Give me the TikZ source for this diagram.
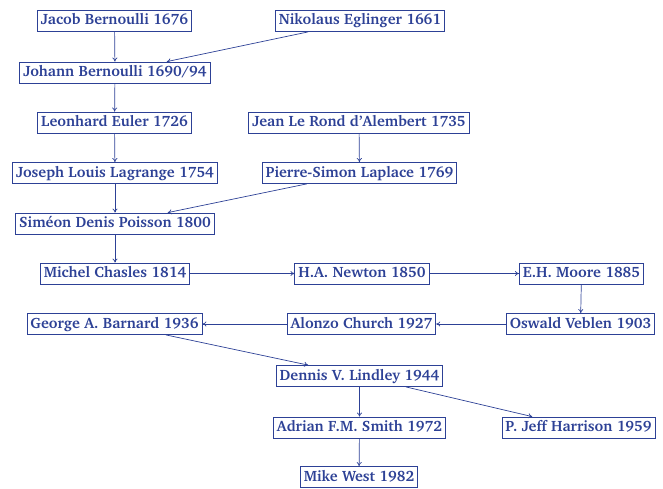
\documentclass[tikz,border=0pt]{standalone}
\usepackage[T1]{fontenc}
\renewcommand{\rmdefault}{bch}
\usetikzlibrary{arrows.meta}
\definecolor{genblue}{RGB}{45,65,150}
\tikzset{
  person/.style={draw=genblue,text=genblue,font=\fontsize{15}{17}\selectfont\bfseries,
    line width=0.8pt,inner xsep=3.5pt,inner ysep=3.5pt,text height=11pt,text depth=3pt},
  link/.style={draw=genblue,line width=0.7pt,-{To[length=4pt,width=5pt]}}
}
\begin{document}
\begin{tikzpicture}[x=1pt,y=-1pt]
        \useasboundingbox (0,0) rectangle (663,489);
        \node[person] (jacob) at (114.5,20.5) {Jacob Bernoulli 1676};
        \node[person] (eglinger) at (360,21) {Nikolaus Eglinger 1661};
        \node[person] (johann) at (115,72.5) {Johann Bernoulli 1690/94};
        \node[person] (euler) at (114.5,122.5) {Leonhard Euler 1726};
        \node[person] (dalembert) at (359,122.5) {Jean Le Rond d'Alembert 1735};
        \node[person] (lagrange) at (115,173) {Joseph Louis Lagrange 1754};
        \node[person] (laplace) at (359.5,173) {Pierre-Simon Laplace 1769};
        \node[person] (poisson) at (115,223.5) {Sim\'eon Denis Poisson 1800};
        \node[person] (chasles) at (115,273.5) {Michel Chasles 1814};
        \node[person] (newton) at (362,273.5) {H.A. Newton 1850};
        \node[person] (moore) at (581.5,273.5) {E.H. Moore 1885};
        \node[person] (barnard) at (114.5,324) {George A. Barnard 1936};
        \node[person] (church) at (361.5,324) {Alonzo Church 1927};
        \node[person] (veblen) at (580.5,324) {Oswald Veblen 1903};
        \node[person] (lindley) at (359.5,376) {Dennis V. Lindley 1944};
        \node[person] (smith) at (359.5,427.5) {Adrian F.M. Smith 1972};
        \node[person] (harrison) at (578.5,427.5) {P. Jeff Harrison 1959};
        \node[person] (west) at (359,477) {Mike West 1982};

        \draw[link] (jacob) -- (johann);
        \draw[link] (eglinger) -- (johann);
        \draw[link] (johann) -- (euler);
        \draw[link] (euler) -- (lagrange);
        \draw[link] (dalembert) -- (laplace);
        \draw[link] (lagrange) -- (poisson);
        \draw[link] (laplace) -- (poisson);
        \draw[link] (poisson) -- (chasles);
        \draw[link] (chasles) -- (newton);
        \draw[link] (newton) -- (moore);
        \draw[link] (moore) -- (veblen);
        \draw[link] (veblen) -- (church);
        \draw[link] (church) -- (barnard);
        \draw[link] (barnard) -- (lindley);
        \draw[link] (lindley) -- (smith);
        \draw[link] (lindley) -- (harrison);
        \draw[link] (smith) -- (west);
\end{tikzpicture}
\end{document}
